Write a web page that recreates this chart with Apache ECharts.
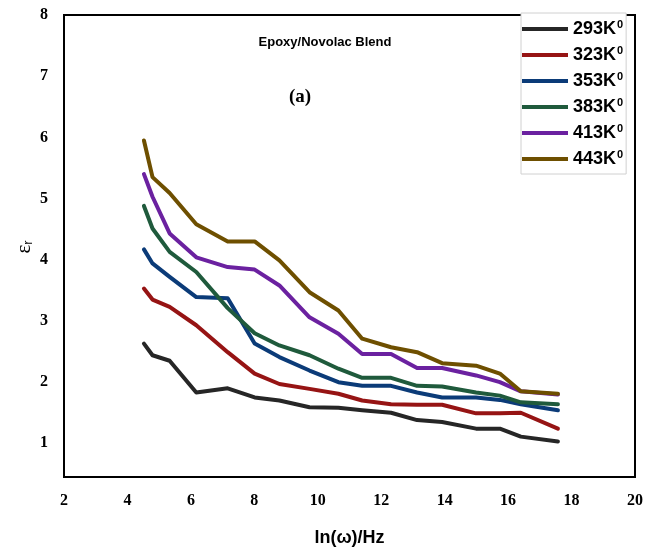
<!DOCTYPE html>
<html>
<head>
<meta charset="utf-8">
<style>html,body{margin:0;padding:0;background:#fff;}#c{width:660px;height:553px;}</style>
<script src="https://cdn.jsdelivr.net/npm/echarts@6/dist/echarts.min.js"></script>
</head>
<body>
<div id="c"></div>
<script>
const xValues = [4.52,4.79,5.33,6.17,7.16,8.01,8.79,9.74,10.65,11.40,12.31,13.13,13.92,14.99,15.74,16.40,17.57];
const s293 = [2.63,2.44,2.35,1.83,1.90,1.75,1.70,1.59,1.58,1.54,1.50,1.38,1.35,1.24,1.24,1.11,1.03];
const s323 = [3.53,3.35,3.23,2.93,2.49,2.14,1.97,1.89,1.81,1.70,1.64,1.63,1.63,1.49,1.49,1.50,1.24];
const s353 = [4.17,3.94,3.72,3.39,3.37,2.63,2.41,2.19,2.00,1.94,1.94,1.83,1.75,1.75,1.71,1.64,1.54];
const s383 = [4.88,4.51,4.13,3.80,3.21,2.80,2.60,2.44,2.22,2.07,2.07,1.94,1.93,1.83,1.78,1.67,1.64];
const s413 = [5.40,5.03,4.43,4.04,3.88,3.84,3.58,3.06,2.79,2.46,2.46,2.23,2.23,2.11,2.00,1.85,1.80];
const s443 = [5.95,5.35,5.09,4.58,4.30,4.30,3.99,3.47,3.17,2.71,2.57,2.49,2.31,2.27,2.14,1.85,1.81];
const seriesNames = ['293K','323K','353K','383K','413K','443K'];
const seriesData = [s293,s323,s353,s383,s413,s443];
const colors = ['#262626','#961414','#0b3b78','#1f5a3c','#6b21a0','#6e4f00'];
const yTicks = [1,2,3,4,5,6,7,8];

const chart = echarts.init(document.getElementById('c'));
const series = seriesNames.map((n,i)=>({
  name: n,
  type: 'line',
  showSymbol: false,
  symbol: 'none',
  data: xValues.map((x,j)=>[x, seriesData[i][j]]),
  lineStyle: {color: colors[i], width: 4, cap: 'round', join: 'round'},
  itemStyle: {color: colors[i]},
  z: 2 + i
}));
chart.setOption({
  animation: false,
  backgroundColor: '#fff',
  grid: {left: 64, right: 25, top: 15, bottom: 76, show: true, borderColor: '#000', borderWidth: 2, backgroundColor: 'transparent'},
  xAxis: {
    type: 'value', min: 2, max: 20, interval: 2,
    axisLine: {show: false}, axisTick: {show: false}, splitLine: {show: false},
    axisLabel: {color: '#000', fontFamily: 'Liberation Serif', fontWeight: 'bold', fontSize: 16, margin: 16},
    name: 'ln(\u03c9)/Hz', nameLocation: 'middle', nameGap: 52,
    nameTextStyle: {color: '#000', fontFamily: 'Liberation Sans', fontWeight: 'bold', fontSize: 18}
  },
  yAxis: {
    type: 'value', min: 0.45, max: 8,
    axisLine: {show: false}, axisTick: {show: false}, splitLine: {show: false},
    axisLabel: {customValues: yTicks, color: '#000', fontFamily: 'Liberation Serif', fontWeight: 'bold', fontSize: 16, margin: 16}
  },
  legend: {
    orient: 'vertical', left: 521, top: 13,
    padding: [6, 3, 6, 1],
    backgroundColor: '#fff', borderColor: '#d0d0d0', borderWidth: 1,
    itemWidth: 46, itemHeight: 4, itemGap: 7, icon: 'rect',
    data: seriesNames,
    formatter: n => '{a|' + n + '}{s|0}',
    textStyle: {
      rich: {
        a: {fontFamily: 'Liberation Sans', fontWeight: 'bold', fontSize: 18, color: '#000', lineHeight: 20},
        s: {fontFamily: 'Liberation Sans', fontWeight: 'bold', fontSize: 11, color: '#000', verticalAlign: 'top', lineHeight: 12, padding: [0,0,0,1]}
      }
    }
  },
  graphic: [
    {type: 'text', style: {text: 'Epoxy/Novolac Blend', x: 325, y: 42, align: 'center', verticalAlign: 'middle', font: 'bold 13px "Liberation Sans"', fill: '#000'}},
    {type: 'text', style: {text: '(a)', x: 300, y: 97, align: 'center', verticalAlign: 'middle', font: 'bold 19px "Liberation Serif"', fill: '#000'}},
    {type: 'text', x: 24, y: 247, rotation: Math.PI/2, style: {
      text: '{e|\u03b5}{r|r}', align: 'center', verticalAlign: 'middle',
      rich: {e: {font: '21px "Liberation Serif"', fill: '#000'}, r: {font: '13px "Liberation Sans"', fill: '#000', verticalAlign: 'bottom', padding: [8,0,0,0]}}
    }}
  ],
  series: series
});
</script>
</body>
</html>
